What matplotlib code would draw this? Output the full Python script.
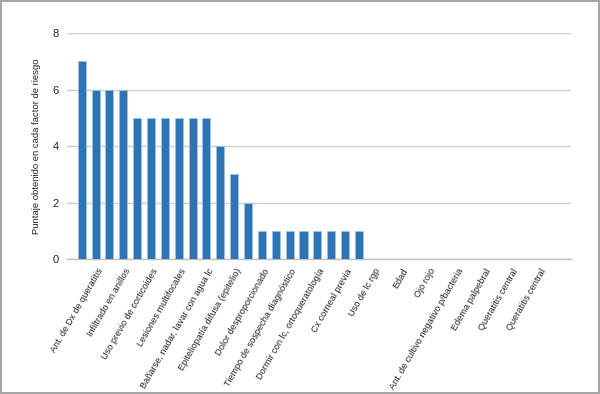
import matplotlib
matplotlib.use('Agg')
import matplotlib.pyplot as plt
import matplotlib.transforms as mtransforms

plt.rcParams['font.family'] = ['Liberation Sans Narrow', 'Liberation Sans', 'DejaVu Sans']

# Score per risk factor (34 categories, only every other one is labelled on the axis)
values = [7, 6, 6, 6, 5, 5, 5, 5, 5, 5, 4, 3, 2,
          1, 1, 1, 1, 1, 1, 1, 1,
          0, 0, 0, 0, 0, 0, 0, 0, 0, 0, 0, 0, 0]

shown_labels = ['Ant. de Dx de queratitis', 'Infiltrado en anillos',
                'Uso previo de corticoides', 'Lesiones multifocales',
                'Bañarse, nadar, lavar con agua lc',
                'Epiteliopatía difusa (epitelio)', 'Dolor desproporcionado',
                'Tiempo de sospecha diagnóstico',
                'Dormir con lc, ortoqueratología', 'Cx corneal previa',
                'Uso de lc rgp', 'Edad', 'Ojo rojo',
                'Ant. de cultivo negativo p/bacteria', 'Edema palpebral',
                'Queratitis central', 'Queratitis central']

x = list(range(len(values)))

fig = plt.figure(figsize=(6, 3.94), dpi=100)
fig.patch.set_edgecolor('#a6a6a6')
fig.patch.set_linewidth(1.5)
ax = fig.add_axes([0.1117, 0.3426, 0.84, 0.5736])

ax.bar(x, values, width=0.58, color='#2e74b5', edgecolor='#9dc3e6',
       linewidth=0.6, zorder=3)

ax.set_ylim(0, 8)
ax.set_yticks([0, 2, 4, 6, 8])
ax.set_xlim(-1.06, 35.3)
ax.grid(axis='y', color='#d0d0d0', linewidth=1.0, zorder=0)
for s in ['top', 'right', 'left']:
    ax.spines[s].set_visible(False)
ax.spines['bottom'].set_color('#bfbfbf')
ax.spines['bottom'].set_linewidth(1.0)
ax.tick_params(axis='both', length=0, labelsize=8, colors='#222222')
ax.tick_params(axis='y', pad=6)

ax.set_xticks(x[::2][:len(shown_labels)])
ax.set_xticklabels(shown_labels, rotation=60, ha='right',
                   rotation_mode='anchor', fontsize=6.6)
offset = mtransforms.ScaledTranslation(0.15, -0.03, fig.dpi_scale_trans)
for lab in ax.get_xticklabels():
    lab.set_transform(lab.get_transform() + offset)

ax.set_ylabel('Puntaje obtenido en cada factor de riesgo', fontsize=6.8,
              color='#222222', labelpad=8)

fig.savefig('out.png', dpi=100)
